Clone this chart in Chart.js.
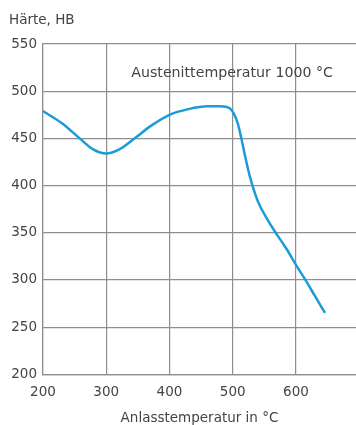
<!DOCTYPE html>
<html>
<head>
<meta charset="utf-8">
<script src="https://cdn.jsdelivr.net/npm/chart.js@4.4.1/dist/chart.umd.min.js"></script>
<style>
  html, body { margin: 0; padding: 0; background: #fff; }
  #wrap { position: relative; width: 356px; height: 425px; }
  #ytitle { position: absolute; left: 9px; top: 11px; font: 13.5px "DejaVu Sans", sans-serif; color: #444; }
</style>
</head>
<body>
<div id="wrap">
  <div id="ytitle">Härte, HB</div>
  <canvas id="c" width="356" height="425"></canvas>
</div>
<script>
const temperatures = [200, 230, 258, 280, 300, 320, 345, 370, 400, 430, 460, 480, 495, 502, 508, 514, 520, 527, 540, 555, 570, 585, 600, 615, 630, 646];
const hardness     = [479, 466, 450, 438, 434, 438, 450, 463, 475, 481, 484, 484, 482, 476, 466, 449, 430, 410, 383, 364, 348, 333, 316, 300, 283, 265];
const xTicks = [200, 300, 400, 500, 600];
const yTicks = [200, 250, 300, 350, 400, 450, 500, 550];
const annotation = "Austenittemperatur 1000 °C";
const xTitle = "Anlasstemperatur in °C";

const FONT = '"DejaVu Sans", sans-serif';
const textColor = '#444';
const gridColor = '#8e8e8e';

const annotPlugin = {
  id: 'annot',
  afterDatasetsDraw(chart) {
    const ctx = chart.ctx, a = chart.chartArea;
    ctx.save();
    ctx.font = '14.2px ' + FONT;
    ctx.fillStyle = textColor;
    ctx.textAlign = 'right';
    ctx.textBaseline = 'middle';
    ctx.fillText(annotation, a.right - 23, a.top + 29);
    ctx.restore();
  }
};

new Chart(document.getElementById('c'), {
  type: 'line',
  data: {
    datasets: [{
      data: temperatures.map((t, i) => ({ x: t, y: hardness[i] })),
      borderColor: '#1b9bd8',
      borderWidth: 2.5,
      pointRadius: 0,
      tension: 0.4,
      cubicInterpolationMode: 'monotone',
      fill: false
    }]
  },
  options: {
    responsive: false,
    animation: false,
    layout: { padding: { top: 44, left: 6, right: 0, bottom: 0 } },
    plugins: { legend: { display: false }, tooltip: { enabled: false } },
    scales: {
      x: {
        type: 'linear',
        min: 200, max: 695,
        afterBuildTicks(s) { s.ticks = xTicks.map(v => ({ value: v })); },
        ticks: { font: { size: 13.5, family: FONT }, color: textColor, padding: 10 },
        grid: {
          color: (c) => (c.tick && xTicks.includes(c.tick.value)) ? gridColor : 'rgba(0,0,0,0)',
          lineWidth: 1.2, drawTicks: false
        },
        border: { color: gridColor, width: 1.2 },
        title: { display: true, text: xTitle, font: { size: 13.5, family: FONT, lineHeight: 1 }, color: textColor, padding: { top: 1, bottom: 0 } }
      },
      y: {
        type: 'linear',
        min: 200, max: 550,
        afterBuildTicks(s) { s.ticks = yTicks.map(v => ({ value: v })); },
        afterFit(s) { s.width = 37; },
        ticks: { font: { size: 13.5, family: FONT }, color: textColor, padding: 6 },
        grid: { color: gridColor, lineWidth: 1.2, drawTicks: false },
        border: { color: gridColor, width: 1.2 }
      }
    }
  },
  plugins: [annotPlugin]
});
</script>
</body>
</html>
